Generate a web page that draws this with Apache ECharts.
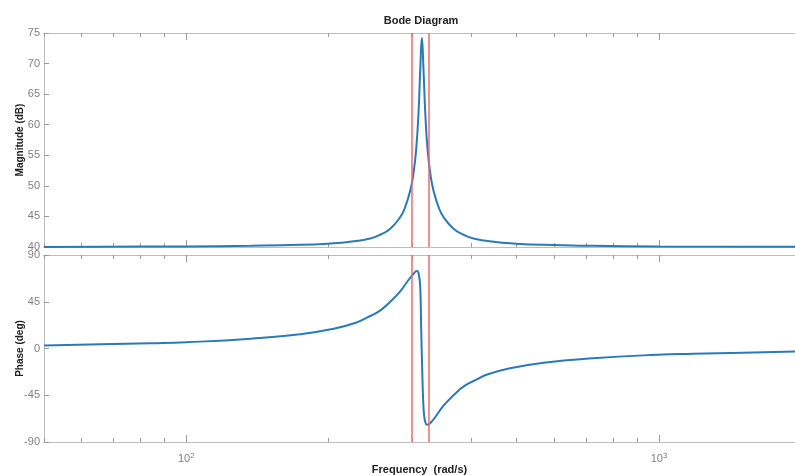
<!DOCTYPE html>
<html>
<head>
<meta charset="utf-8">
<script src="https://cdn.jsdelivr.net/npm/echarts@6/dist/echarts.min.js"></script>
<style>
  html, body { margin: 0; padding: 0; background: #fff; }
  #chart { width: 795px; height: 475px; }
</style>
</head>
<body>
<div id="chart"></div>
<script>
// values
var magFreq = [50, 66, 100, 137, 174, 199, 222, 245, 257, 270, 283.5, 290, 297.6, 302.3, 306.4, 309.9, 312.5, 315,
               317.5, 320.2, 323.8, 328.2, 333.4, 342.2, 350, 367.5, 386, 405, 447, 498, 570, 724, 1000, 1939];
var magDb = [40.02, 40.04, 40.1, 40.2, 40.35, 40.55, 40.85, 41.4, 42.0, 43.0, 44.9, 46.4, 49.2, 52.0, 56.0, 62, 69, 74.2,
             69, 62, 56.0, 52.0, 49.2, 46.4, 44.9, 43.0, 42.0, 41.4, 40.85, 40.55, 40.35, 40.2, 40.1, 40.05];

var phaseFreq = [50, 66, 84, 100, 137, 174, 205, 229, 241, 256, 270, 283.5, 293, 302, 307.4, 310.1, 312.4, 313.9,
                 315.5, 317, 318.6, 320.9, 323.2, 328.6, 338.6, 350, 367.5, 387.6, 411.7, 433, 484, 570, 724, 992,
                 1181, 1503, 1939];
var phaseDeg = [3, 4, 5, 6, 9.5, 13.8, 19, 25, 29.8, 36, 45, 55, 64, 71.5, 74.5, 72, 60, 20,
                -20, -50, -65, -72, -73.5, -71.5, -64, -55, -45, -36, -29.8, -25, -19, -13.8, -9.5, -6,
                -5, -4, -3];

var cursorFreq = [300, 325];

var minorTicks = [50, 60, 70, 80, 90, 200, 300, 400, 500, 600, 700, 800, 900, 2000];
var majorTicks = [100, 1000];

var FONT = 'Liberation Sans';
var LINE = '#bdbdbd';
var TICK = '#9a9a9a';
var LABEL = '#7f7f7f';
var BLUE = '#2a7ab9';
var RED = '#ef6a6a';

function pairs(xs, ys) {
	return xs.map(function(x, i) { return [x, ys[i]]; });
}

function xAx(grid, pos, ticks, len, opts) {
	var a = {
		type: 'log', logBase: 10, gridIndex: grid, position: pos,
		min: 50, max: 1939,
		axisLine: { show: true, onZero: false, lineStyle: { color: LINE, width: 1 } },
		axisTick: { show: true, inside: true, length: len, customValues: ticks, lineStyle: { color: TICK } },
		axisLabel: { show: false },
		splitLine: { show: false }
	};
	return Object.assign(a, opts || {});
}

function yAx(grid, min, max, step, name) {
	return {
		type: 'value', gridIndex: grid, min: min, max: max, interval: step,
		name: name, nameLocation: 'middle', nameGap: 19, nameMoveOverlap: false,
		nameTextStyle: { fontSize: 10, fontWeight: 'bold', color: '#222', fontFamily: FONT },
		axisLine: { show: true, lineStyle: { color: LINE } },
		axisTick: { show: true, inside: true, length: 5, lineStyle: { color: TICK } },
		axisLabel: { color: LABEL, fontSize: 11, margin: 4 },
		splitLine: { show: false }
	};
}

var cursorLines = {
	silent: true,
	symbol: ['none', 'none'],
	label: { show: false },
	lineStyle: { color: RED, type: 'solid', width: 1.5 },
	data: cursorFreq.map(function(f) { return { xAxis: f }; })
};

var option = {
	animation: false,
	backgroundColor: '#fff',
	textStyle: { fontFamily: FONT },
	title: {
		text: 'Bode Diagram', left: 416, top: 10, textAlign: 'center',
		textStyle: { fontSize: 11, fontWeight: 'bold', color: '#222', fontFamily: FONT }
	},
	grid: [
		{ left: 44, top: 33, right: 0, height: 214, outerBoundsMode: 'none' },
		{ left: 44, top: 255, right: 0, height: 187, outerBoundsMode: 'none' }
	],
	xAxis: [
		xAx(0, 'bottom', minorTicks, 4),
		xAx(0, 'top', minorTicks, 4),
		xAx(0, 'bottom', majorTicks, 7),
		xAx(0, 'top', majorTicks, 7),
		xAx(1, 'bottom', minorTicks, 4),
		xAx(1, 'top', minorTicks, 4),
		xAx(1, 'bottom', majorTicks, 7, {
			name: 'Frequency  (rad/s)', nameLocation: 'middle', nameGap: 22, nameMoveOverlap: false,
			nameTextStyle: { fontSize: 11, fontWeight: 'bold', color: '#222', fontFamily: FONT },
			axisLabel: {
				show: true, customValues: majorTicks, margin: 10, color: LABEL,
				formatter: function(v) {
					return '{b|10}{s|' + Math.round(Math.log10(v)) + '}';
				},
				rich: {
					b: { fontSize: 11, color: LABEL, fontFamily: FONT },
					s: { fontSize: 8, color: LABEL, fontFamily: FONT, padding: [0, 0, 6, 0] }
				}
			}
		}),
		xAx(1, 'top', majorTicks, 7)
	],
	yAxis: [
		yAx(0, 40, 75, 5, 'Magnitude (dB)'),
		yAx(1, -90, 90, 45, 'Phase (deg)')
	],
	series: [
		{
			name: 'Magnitude', type: 'line', xAxisIndex: 0, yAxisIndex: 0,
			data: pairs(magFreq, magDb),
			showSymbol: false, smooth: 0.5,
			lineStyle: { color: BLUE, width: 2 },
			markLine: cursorLines
		},
		{
			name: 'Phase', type: 'line', xAxisIndex: 4, yAxisIndex: 1,
			data: pairs(phaseFreq, phaseDeg),
			showSymbol: false, smooth: 0.5,
			lineStyle: { color: BLUE, width: 2 },
			markLine: cursorLines
		}
	]
};

var chart = echarts.init(document.getElementById('chart'));
chart.setOption(option);
</script>
</body>
</html>
